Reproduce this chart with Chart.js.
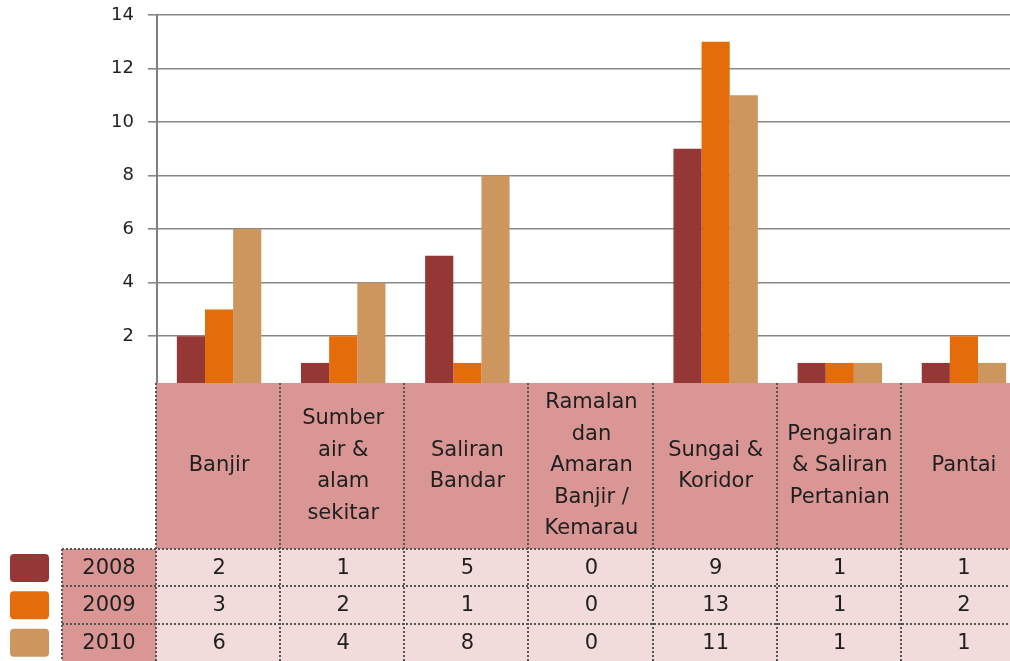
<!DOCTYPE html>
<html>
<head>
<meta charset="utf-8">
<script src="https://cdn.jsdelivr.net/npm/chart.js@4/dist/chart.umd.min.js"></script>
<style>
  body { margin: 0; background: #fff; overflow: hidden; }
  #wrap { position: absolute; left: 0; top: 0; width: 1026px; height: 661px; }
</style>
</head>
<body>
<div id="wrap"><canvas id="chart" width="1026" height="661"></canvas></div>
<script>
// data
let categories = [
    ["Banjir"],
    ["Sumber", "air &", "alam", "sekitar"],
    ["Saliran", "Bandar"],
    ["Ramalan", "dan", "Amaran", "Banjir /", "Kemarau"],
    ["Sungai &", "Koridor"],
    ["Pengairan", "& Saliran", "Pertanian"],
    ["Pantai"]
];
let years = ["2008", "2009", "2010"];
let values2008 = [2, 1, 5, 0, 9, 1, 1];
let values2009 = [3, 2, 1, 0, 13, 1, 2];
let values2010 = [6, 4, 8, 0, 11, 1, 1];
let yTicks = [2, 4, 6, 8, 10, 12, 14];

let colors = ["#953735", "#e46c0a", "#cc965e"];
let seriesValues = [values2008, values2009, values2010];

//table under the plot (drawn with the x scale positions)
let dataTable = {
    id: "dataTable",
    afterDatasetsDraw: function (chart) {
        let ctx = chart.ctx;
        let area = chart.chartArea;
        let xs = chart.scales.x;
        let colW = area.width / categories.length;
        let left = area.left - 1;
        let right = left + colW * categories.length;
        let headTop = area.bottom;
        let headBottom = 549;
        let rowH = (661 - headBottom) / years.length;
        let labelLeft = 62;

        ctx.save();
        // header cells
        ctx.fillStyle = "#d99694";
        ctx.fillRect(left, headTop, right - left, headBottom - headTop);
        // row label cells
        ctx.fillRect(labelLeft, headBottom, left - labelLeft, rowH * years.length);
        // value cells
        ctx.fillStyle = "#f2dcdb";
        ctx.fillRect(left, headBottom, right - left, rowH * years.length);

        // legend keys
        for (let r = 0; r < years.length; r++) {
            ctx.fillStyle = colors[r];
            ctx.beginPath();
            ctx.roundRect(10, headBottom + r * rowH + 5, 39, 28, 4);
            ctx.fill();
        }

        // dotted borders
        ctx.strokeStyle = "#555";
        ctx.lineWidth = 2;
        ctx.setLineDash([2, 2]);
        ctx.beginPath();
        for (let i = 0; i <= categories.length; i++) {
            let x = Math.round(left + i * colW);
            ctx.moveTo(x, headTop);
            ctx.lineTo(x, 661);
        }
        for (let r = 0; r < years.length; r++) {
            let y = Math.round(headBottom + r * rowH);
            ctx.moveTo(labelLeft, y);
            ctx.lineTo(right, y);
        }
        ctx.moveTo(labelLeft, headBottom);
        ctx.lineTo(labelLeft, 661);
        ctx.stroke();
        ctx.setLineDash([]);

        // texts
        ctx.fillStyle = "#1f1f1f";
        ctx.font = '21px "DejaVu Sans"';
        ctx.textAlign = "center";
        ctx.textBaseline = "middle";
        let headMid = (headTop + headBottom) / 2;
        for (let i = 0; i < categories.length; i++) {
            let cx = xs.getPixelForValue(i);
            let lines = categories[i];
            for (let j = 0; j < lines.length; j++) {
                ctx.fillText(lines[j], cx, headMid + (j - (lines.length - 1) / 2) * 31.5);
            }
            for (let r = 0; r < years.length; r++) {
                ctx.fillText(String(seriesValues[r][i]), cx, headBottom + r * rowH + rowH / 2 + 1);
            }
        }
        for (let r = 0; r < years.length; r++) {
            ctx.fillText(years[r], (labelLeft + left) / 2, headBottom + r * rowH + rowH / 2 + 1);
        }
        ctx.restore();
    }
};

let datasets = [];
for (let i = 0; i < years.length; i++) {
    datasets.push({
        label: years[i],
        data: seriesValues[i],
        backgroundColor: colors[i],
        borderWidth: 0,
        barPercentage: 1,
        categoryPercentage: 0.68
    });
}

new Chart("chart", {
    type: "bar",
    data: {
        labels: categories.map(c => c.join(" ")),
        datasets: datasets
    },
    options: {
        responsive: false,
        animation: false,
        layout: { padding: { top: 15, bottom: 278, right: 0, left: 0 } },
        plugins: {
            legend: { display: false },
            tooltip: { enabled: false }
        },
        scales: {
            x: { display: false },
            y: {
                min: 0.25,
                max: 14,
                afterFit: function (scale) {
                    scale.width = 157;
                    scale.paddingTop = 0;
                    scale.paddingBottom = 0;
                },
                afterBuildTicks: function (scale) {
                    scale.ticks = yTicks.map(v => ({ value: v }));
                },
                border: { display: true, color: "#808080", width: 2 },
                grid: { color: "#888888", lineWidth: 1.6, tickLength: 9 },
                ticks: {
                    color: "#1f1f1f",
                    padding: 14,
                    font: { family: "DejaVu Sans", size: 18 }
                }
            }
        }
    },
    plugins: [dataTable]
});
</script>
</body>
</html>
